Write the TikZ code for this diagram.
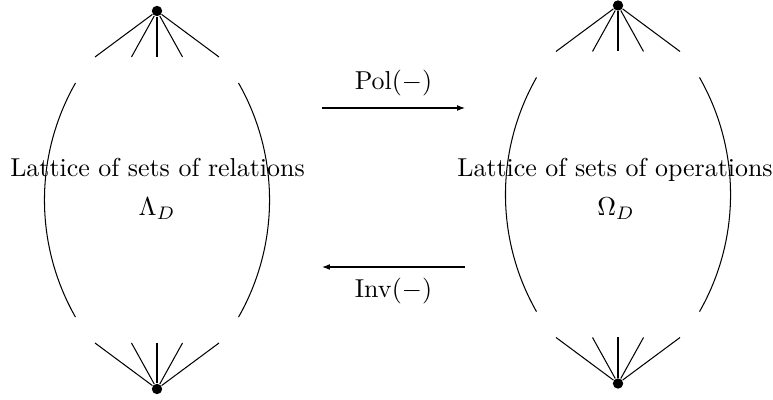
\documentclass[tikz,border=0pt]{standalone}
\usepackage{amsmath}
\usetikzlibrary{arrows.meta,calc}

\begin{document}
\begin{tikzpicture}[x=0.386pt,y=0.386pt,
        dot/.style={circle,fill,inner sep=0pt,minimum size=4pt},
        lbl/.style={inner sep=0pt},
        >={Latex[length=3pt,width=2.2pt]}]
        \useasboundingbox (0,0) rectangle (773,400);

        % Lattices: top and bottom element, fans, side arcs
        \foreach \cx/\cy/\s in {157/200/rel, 618/205.5/op} {
            \node[dot] (\s-top) at (\cx,\cy+189) {};
            \node[dot] (\s-bot) at (\cx,\cy-189) {};
            \foreach \dx [count=\i] in {-62,-25.5,0,25.5,62} {
                \coordinate (\s-a\i) at (\cx+\dx,\cy+143);
                \coordinate (\s-b\i) at (\cx+\dx,\cy-143);
                \draw (\s-top) -- (\s-a\i);
                \draw (\s-bot) -- (\s-b\i);
            }
            \draw (\cx-81.5,\cy+117) arc[start angle=150.3,end angle=209.7,radius=236.3];
            \draw (\cx+81.5,\cy+117) arc[start angle=29.7,end angle=-29.7,radius=236.3];
        }

        % Lattice names
        \node[anchor=base] (rel) at (157.5,223) {Lattice of sets of relations};
        \node[anchor=base] (lam) at (157,184) {$\Lambda_D$};
        \node[anchor=base] (ops) at (615,223) {Lattice of sets of operations};
        \node[anchor=base] (om) at (616,184) {$\Omega_D$};

        % Galois maps
        \coordinate (pol-s) at (322,292);
        \coordinate (pol-e) at (465,292);
        \coordinate (inv-s) at (465,133);
        \coordinate (inv-e) at (322,133);
        \draw[->] (pol-s) -- (pol-e) node[lbl,midway,above=4.5pt] (pol) {$\mathrm{Pol}(-)$};
        \draw[->] (inv-s) -- (inv-e) node[lbl,midway,below=4.2pt] (inv) {$\mathrm{Inv}(-)$};
    \end{tikzpicture}
\end{document}
